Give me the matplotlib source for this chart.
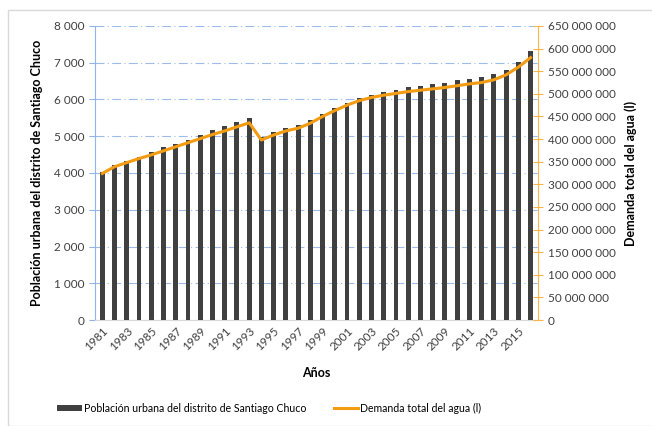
import matplotlib.pyplot as plt
import numpy as np
from matplotlib.patches import Rectangle
from matplotlib.ticker import FuncFormatter, MultipleLocator

years = list(range(1981, 2017))
poblacion = [4020, 4210, 4320, 4440, 4565, 4695, 4795, 4905, 5040, 5170,
             5270, 5380, 5490, 4980, 5110, 5220, 5310, 5450, 5610, 5770,
             5900, 6040, 6130, 6210, 6270, 6330, 6380, 6430, 6460, 6520,
             6570, 6620, 6690, 6800, 7020, 7320]
demanda = [324, 339, 348, 357, 365, 374, 383, 392, 401, 410,
           418, 427, 436, 398, 409, 418, 424, 435, 450, 463,
           475, 485, 492, 497, 501, 505, 508, 511, 514, 518,
           522, 525, 531, 542, 559, 580]
demanda = [d * 1e6 for d in demanda]

plt.rcParams['font.family'] = ['Lato', 'DejaVu Sans']

fig = plt.figure(figsize=(6.52, 4.26), dpi=100)
fig.patches.append(Rectangle((8 / 652, 0.0), 1.0, 1 - 10 / 426,
                             transform=fig.transFigure, fill=False,
                             edgecolor='#d9d9d9', linewidth=1.0))
ax = fig.add_axes([0.1457, 0.2488, 0.6793, 0.6902])
x = np.arange(len(years))

ax.bar(x, poblacion, width=0.4, color='#404040', zorder=3,
       label='Población urbana del distrito de Santiago Chuco')
ax.set_ylim(0, 8000)
ax.set_xlim(-0.6, len(years) - 0.4)
ax.yaxis.set_major_locator(MultipleLocator(1000))
ax.yaxis.set_major_formatter(FuncFormatter(lambda v, p: f'{int(v):,}'.replace(',', ' ')))
ax.grid(axis='y', color='#9dbbea', linestyle=(0, (8, 3, 1, 3)), linewidth=0.8, zorder=0)
ax.set_xticks(x[::2])
ax.set_xticklabels([str(y) for y in years[::2]], rotation=45, ha='right',
                   rotation_mode='anchor', fontsize=8.5)
ax.tick_params(axis='x', length=0, pad=4, labelcolor='#404040')
ax.tick_params(axis='y', colors='#8fb4ee', labelcolor='#404040', labelsize=8.5,
               length=4, direction='out')
for s in ['top', 'right']:
    ax.spines[s].set_visible(False)
ax.spines['left'].set_color('#8fb4ee')
ax.spines['bottom'].set_color('#d9d9d9')
ax.set_ylabel('Población urbana del distrito de Santiago Chuco', fontsize=9,
              fontweight='bold', labelpad=8)
ax.set_xlabel('Años', fontsize=9, fontweight='bold', labelpad=10)

ax2 = ax.twinx()
ax2.plot(x, demanda, color='#f39c12', linewidth=2.2, zorder=4,
         label='Demanda total del agua (l)')
ax2.set_ylim(0, 650e6)
ax2.yaxis.set_major_locator(MultipleLocator(50e6))
ax2.yaxis.set_major_formatter(FuncFormatter(lambda v, p: f'{int(v):,}'.replace(',', ' ')))
ax2.tick_params(axis='y', colors='#f9b44a', labelcolor='#404040', labelsize=8.5,
                length=7, direction='inout')
for s in ['top', 'left', 'bottom']:
    ax2.spines[s].set_visible(False)
ax2.spines['right'].set_color('#f9b44a')
ax2.set_ylabel('Demanda total del agua (l)', fontsize=9, fontweight='bold',
               labelpad=6)

h1, l1 = ax.get_legend_handles_labels()
h2, l2 = ax2.get_legend_handles_labels()
fig.legend(h1 + h2, l1 + l2, loc='center', bbox_to_anchor=(0.413, 0.042),
           ncol=2, frameon=False, fontsize=7.6, handlelength=2.3,
           handletextpad=0.2, columnspacing=2.6, handleheight=0.6)

fig.savefig('out.png', dpi=100)
